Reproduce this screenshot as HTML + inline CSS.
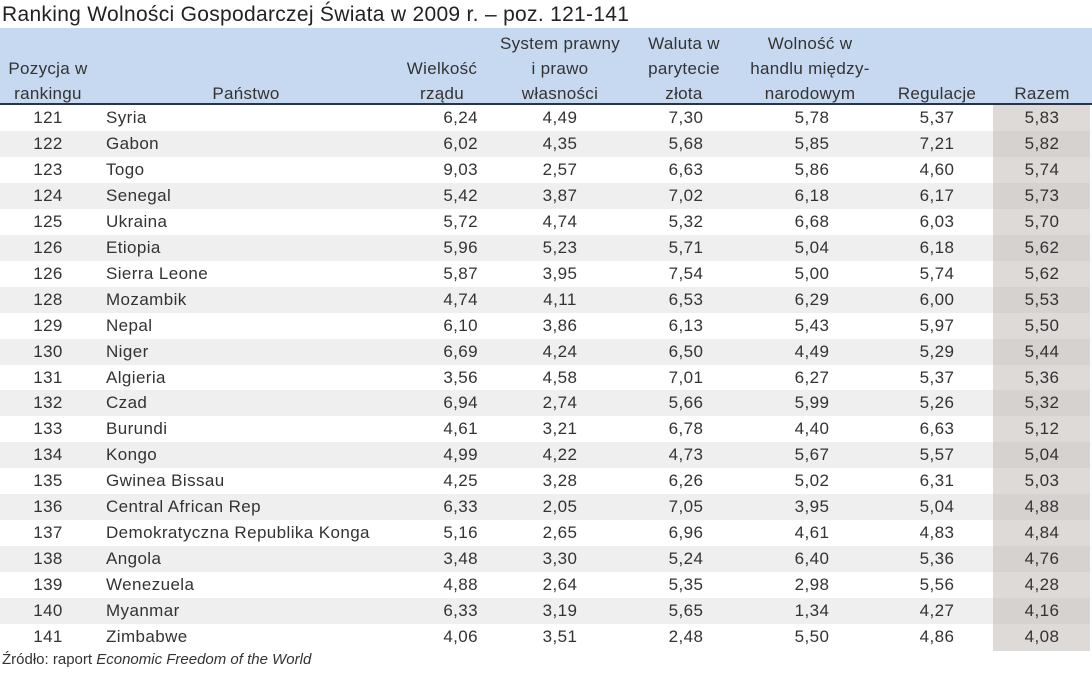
<!DOCTYPE html>
<html><head><meta charset="utf-8"><style>
body{margin:0;width:1092px;height:680px;background:#fff;font-family:"Liberation Sans",sans-serif;color:#333;position:relative;overflow:hidden}
.t{position:absolute;white-space:nowrap}
.c{position:absolute;white-space:nowrap;transform:translateX(-50%);text-align:center}
.r{position:absolute;white-space:nowrap;transform:translateX(-100%)}
.row{position:absolute;left:0;width:1092px;height:26px;font-size:17px;letter-spacing:0.4px}
</style></head><body>
<div class="t" style="left:2px;top:3px;font-size:21px;letter-spacing:0.3px;color:#222">Ranking Wolności Gospodarczej Świata w 2009 r. – poz. 121-141</div>
<div style="position:absolute;left:0;top:28px;width:1092px;height:75px;background:#c6d9f0"></div>
<div style="position:absolute;left:0;top:103px;width:1092px;height:2px;background:#2c3440"></div>
<div style="position:absolute;left:993px;top:105px;width:97px;height:546px;background:#dedad8"></div>
<div id="rows"></div>
<div style="font-size:17px;line-height:25px;letter-spacing:0.3px">
<div class="c" style="left:48px;top:56px">Pozycja w<br>rankingu</div>
<div class="c" style="left:246px;top:81px">Państwo</div>
<div class="c" style="left:442px;top:56px">Wielkość<br>rządu</div>
<div class="c" style="left:560px;top:31px">System prawny<br>i prawo<br>własności</div>
<div class="c" style="left:684px;top:31px">Waluta w<br>parytecie<br>złota</div>
<div class="c" style="left:810px;top:31px">Wolność w<br>handlu między-<br>narodowym</div>
<div class="c" style="left:937px;top:81px">Regulacje</div>
<div class="c" style="left:1042px;top:81px">Razem</div>
</div>
<div class="t" style="left:2px;top:651px;font-size:15px">Źródło: raport <i>Economic Freedom of the World</i></div>
<script>
var d=[["121","Syria","6,24","4,49","7,30","5,78","5,37","5,83"],["122","Gabon","6,02","4,35","5,68","5,85","7,21","5,82"],["123","Togo","9,03","2,57","6,63","5,86","4,60","5,74"],["124","Senegal","5,42","3,87","7,02","6,18","6,17","5,73"],["125","Ukraina","5,72","4,74","5,32","6,68","6,03","5,70"],["126","Etiopia","5,96","5,23","5,71","5,04","6,18","5,62"],["126","Sierra Leone","5,87","3,95","7,54","5,00","5,74","5,62"],["128","Mozambik","4,74","4,11","6,53","6,29","6,00","5,53"],["129","Nepal","6,10","3,86","6,13","5,43","5,97","5,50"],["130","Niger","6,69","4,24","6,50","4,49","5,29","5,44"],["131","Algieria","3,56","4,58","7,01","6,27","5,37","5,36"],["132","Czad","6,94","2,74","5,66","5,99","5,26","5,32"],["133","Burundi","4,61","3,21","6,78","4,40","6,63","5,12"],["134","Kongo","4,99","4,22","4,73","5,67","5,57","5,04"],["135","Gwinea Bissau","4,25","3,28","6,26","5,02","6,31","5,03"],["136","Central African Rep","6,33","2,05","7,05","3,95","5,04","4,88"],["137","Demokratyczna Republika Konga","5,16","2,65","6,96","4,61","4,83","4,84"],["138","Angola","3,48","3,30","5,24","6,40","5,36","4,76"],["139","Wenezuela","4,88","2,64","5,35","2,98","5,56","4,28"],["140","Myanmar","6,33","3,19","5,65","1,34","4,27","4,16"],["141","Zimbabwe","4,06","3,51","2,48","5,50","4,86","4,08"]];
var h="";d.forEach(function(r,i){var y=105+i*25.95;
if(i%2)h+='<div style="position:absolute;left:0;top:'+y+'px;width:993px;height:26px;background:#efefef"></div><div style="position:absolute;left:993px;top:'+y+'px;width:97px;height:26px;background:#d6d2d0"></div>';
h+='<div class="row" style="top:'+(y+3)+'px"><span class="c" style="left:48px">'+r[0]+'</span><span class="t" style="left:106px">'+r[1]+'</span><span class="r" style="left:478px">'+r[2]+'</span><span class="c" style="left:560px">'+r[3]+'</span><span class="c" style="left:686px">'+r[4]+'</span><span class="c" style="left:812px">'+r[5]+'</span><span class="c" style="left:937px">'+r[6]+'</span><span class="c" style="left:1042px">'+r[7]+'</span></div>';});
document.getElementById("rows").innerHTML=h;
</script>
</body></html>
